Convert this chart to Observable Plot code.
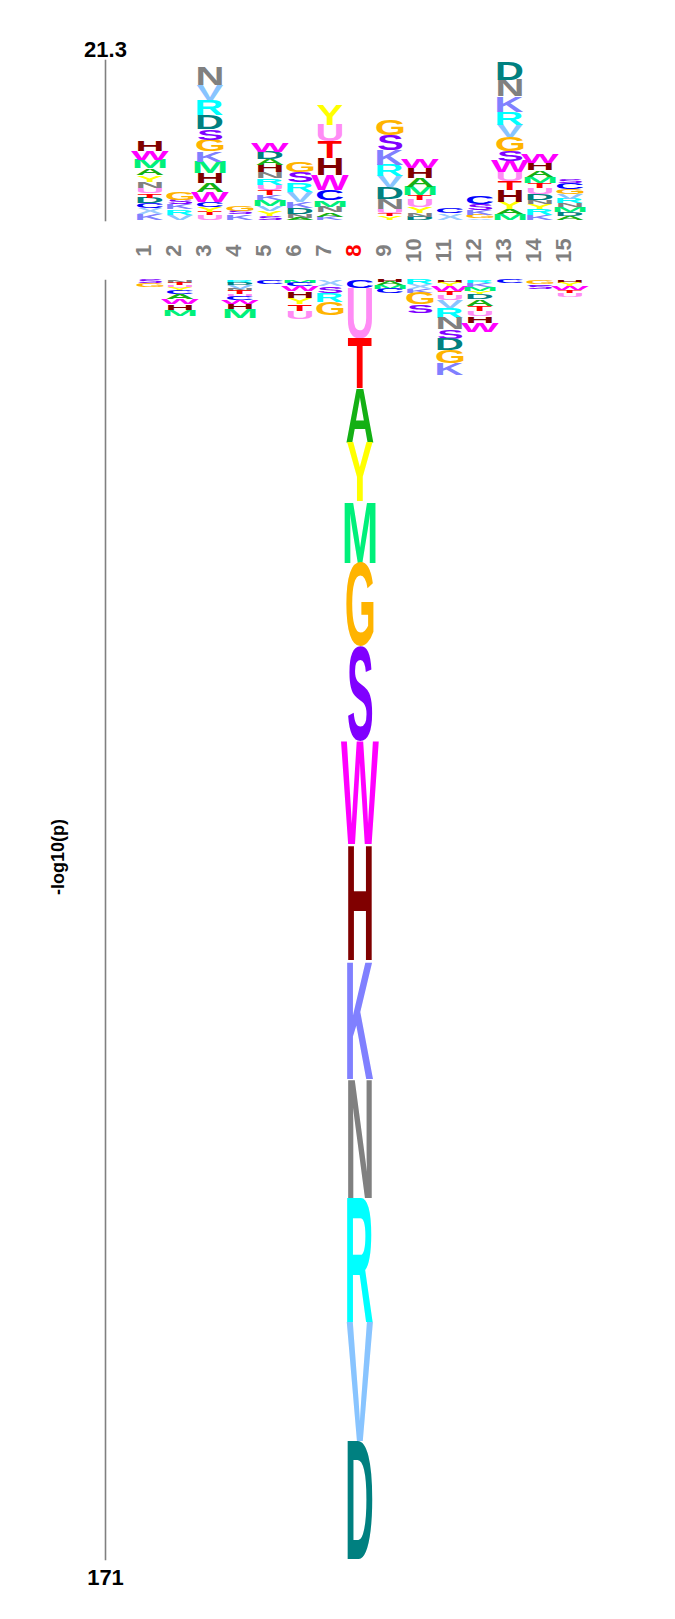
<!DOCTYPE html>
<html>
<head>
<meta charset="utf-8">
<script src="https://cdn.jsdelivr.net/npm/d3@7"></script>
<script src="https://cdn.jsdelivr.net/npm/@observablehq/plot@0.6"></script>
<style>
  body { margin: 0; background: #ffffff; }
  #chart { width: 675px; height: 1619px; }
  #chart svg { display: block; }
</style>
</head>
<body>
<div id="chart"></div>
<script>
// ---------- data ----------
const positions = [1, 2, 3, 4, 5, 6, 7, 8, 9, 10, 11, 12, 13, 14, 15];
const centralPosition = 8;
const yMaxUp = 21.3;
const yMaxLow = 171;
const yAxisTitle = "-log10(p)";

// over-represented residues, listed from the baseline upward
const upLetters = [
  "KXCDTUNYAMWH", "VRKSG", "UTYCWAHMKGSDRVN", "KSG", "SYVMKTURNHADW",
  "ANDKVRSG", "KANMCWHTUY", "", "YTUNDVRKSG", "DNYUTMAHW",
  "XC", "VGKSC", "MAYHTUWSGVRKND", "KRYNDUTMAHW", "ADMNRVGCS"
];
const upHeights = [
  [0.76, 0.8, 0.67, 0.76, 0.57, 0.67, 0.89, 0.89, 0.89, 1.11, 1.2, 1.33],
  [0.73, 0.67, 0.67, 0.6, 0.97],
  [0.67, 0.44, 0.67, 0.67, 1.33, 1.11, 1.33, 1.47, 1.42, 1.56, 1.47, 1.87, 2.0, 2.0, 2.44],
  [0.75, 0.45, 0.65],
  [0.57, 0.63, 0.71, 0.76, 0.67, 0.67, 0.67, 0.89, 0.8, 0.97, 0.8, 0.97, 1.11],
  [0.31, 0.44, 0.8, 0.8, 1.43, 1.24, 1.33, 1.43],
  [0.44, 0.57, 0.76, 0.89, 1.33, 2.0, 2.23, 2.23, 2.23, 2.67],
  [],
  [0.53, 0.36, 0.53, 1.33, 1.6, 1.51, 1.47, 2.0, 2.0, 2.0],
  [0.44, 0.44, 0.8, 0.97, 0.67, 1.11, 1.11, 1.33, 1.2],
  [0.89, 0.67],
  [0.23, 0.44, 0.67, 0.8, 0.97],
  [0.8, 0.63, 1.03, 1.56, 1.11, 1.2, 1.47, 1.33, 1.91, 1.64, 1.64, 2.13, 2.23, 2.44],
  [0.67, 0.76, 0.71, 0.53, 0.8, 0.76, 0.67, 0.8, 0.89, 0.97, 1.11],
  [0.57, 0.53, 0.67, 0.47, 0.6, 0.67, 0.67, 0.8, 0.57]
];

// under-represented residues, listed from the baseline downward
const lowLetters = [
  "SG", "NTUYCAWHM", "", "RDVNTUCWHM", "C",
  "MCWHYTU", "XSRG", "CUTAYMGSWHKNRVD", "HAMC", "RXKGS",
  "HYWTUVRNSDGK", "RKMYDATUHW", "C", "GCS", "HYWTU"
];
const lowHeights = [
  [0.44, 0.57],
  [0.36, 0.36, 0.31, 0.44, 0.44, 0.67, 0.67, 0.76, 0.8],
  [],
  [0.36, 0.36, 0.44, 0.31, 0.44, 0.31, 0.44, 0.57, 0.67, 1.2],
  [0.58],
  [0.36, 0.44, 0.67, 0.89, 0.89, 0.89, 1.03],
  [0.8, 0.89, 1.24, 1.78],
  [1.11, 6.68, 6.68, 7.35, 7.79, 8.16, 11.23, 12.7, 13.77, 15.51, 15.78, 15.91, 16.58, 15.91, 15.78],
  [0.27, 0.44, 0.44, 0.62],
  [0.58, 0.67, 0.45, 1.56, 1.11],
  [0.36, 0.44, 0.67, 0.58, 0.62, 1.03, 1.34, 1.56, 1.25, 1.51, 1.7, 1.6],
  [0.36, 0.53, 0.58, 0.4, 0.67, 0.89, 0.67, 0.76, 0.89, 1.25],
  [0.44],
  [0.58, 0.22, 0.44],
  [0.36, 0.44, 0.53, 0.36, 0.53]
];

const residueColors = {
  A: "#14b014", C: "#0000ff", D: "#008080", G: "#ffb400", H: "#800000",
  K: "#8080ff", M: "#00f07a", N: "#808080", R: "#00ffff", S: "#8000ff",
  T: "#ff0000", U: "#ff8cf5", V: "#88c4ff", W: "#ff00ff", X: "#99ccff",
  Y: "#ffff00"
};

// ---------- build stacked rows ----------
function buildRows(lettersList, heightsList) {
  const rows = [];
  positions.forEach((p, i) => {
    let c = 0;
    [...lettersList[i]].forEach((L, j) => {
      const h = heightsList[i][j];
      rows.push({pos: p, letter: L, y1: c, y2: c + h, mid: c + h / 2, color: residueColors[L]});
      c += h;
    });
  });
  return rows;
}
const upRows = buildRows(upLetters, upHeights);
const lowRows = buildRows(lowLetters, lowHeights);

const FONT = "Liberation Sans, Arial, Helvetica, sans-serif";
const xOpts = {type: "band", domain: positions, range: [135, 585], padding: 0, axis: null};

const upper = Plot.plot({
  width: 675, height: 270,
  marginLeft: 105, marginRight: 90, marginTop: 60, marginBottom: 50,
  x: xOpts,
  y: {domain: [0, yMaxUp], axis: null},
  color: {type: "identity"},
  style: {fontFamily: FONT, background: "#ffffff"},
  marks: [
    Plot.frame({anchor: "left", stroke: "#808080", strokeWidth: 1.6}),
    Plot.text(upRows, {x: "pos", y: "mid", text: "letter", fill: "color", fontSize: 100,
      fontWeight: "bold", fontFamily: FONT}),
    Plot.text(positions, {x: d => d, text: d => String(d), frameAnchor: "bottom", dy: 30,
      rotate: -90, textAnchor: "middle", fill: d => d === centralPosition ? "#ff0000" : "#808080",
      fontSize: 22, fontWeight: "bold", fontFamily: FONT}),
    Plot.text([yMaxUp], {text: d => String(d), frameAnchor: "top-left", dy: -19, textAnchor: "middle",
      fontSize: 22, fontWeight: "bold", fill: "#000000", fontFamily: FONT})
  ]
});

const lower = Plot.plot({
  width: 675, height: 1349,
  marginLeft: 105, marginRight: 90, marginTop: 10, marginBottom: 60,
  x: xOpts,
  y: {domain: [0, yMaxLow], reverse: true, axis: null},
  color: {type: "identity"},
  style: {fontFamily: FONT, background: "#ffffff"},
  marks: [
    Plot.frame({anchor: "left", stroke: "#808080", strokeWidth: 1.6}),
    Plot.text(lowRows, {x: "pos", y: "mid", text: "letter", fill: "color", fontSize: 100,
      fontWeight: "bold", fontFamily: FONT}),
    Plot.text([yMaxLow], {text: d => String(d), frameAnchor: "bottom-left", dy: 25, textAnchor: "middle",
      fontSize: 22, fontWeight: "bold", fill: "#000000", fontFamily: FONT}),
    Plot.text([yAxisTitle], {text: d => d, frameAnchor: "left", dx: -47, dy: -63, rotate: -90,
      textAnchor: "middle", fontSize: 18, fontWeight: "bold", fill: "#000000", fontFamily: FONT})
  ]
});

const chart = document.getElementById("chart");
chart.appendChild(upper);
chart.appendChild(lower);

// ---------- stretch each glyph into its stack cell ----------
const ctx = document.createElement("canvas").getContext("2d");
ctx.font = 'bold 100px "Liberation Sans"';
const metricCache = {};
function metrics(L) {
  if (!metricCache[L]) {
    const m = ctx.measureText(L);
    metricCache[L] = {l: m.actualBoundingBoxLeft, r: m.actualBoundingBoxRight,
      a: m.actualBoundingBoxAscent, d: m.actualBoundingBoxDescent};
  }
  return metricCache[L];
}
const widthBoost = {M: 1.1};
function fitLetters(plot, rows) {
  const xs = plot.scale("x"), ys = plot.scale("y");
  const bw = xs.bandwidth;
  // the letters are the first text mark of each plot
  const group = plot.querySelectorAll('g[aria-label="text"]')[0];
  group.removeAttribute("transform");
  const texts = group.querySelectorAll("text");
  texts.forEach((t, i) => {
    const r = rows[i];
    if (!r) return;
    const m = metrics(r.letter);
    const cx = xs.apply(r.pos) + bw / 2;
    const ya = ys.apply(r.y1), yb = ys.apply(r.y2);
    const top = Math.min(ya, yb), h = Math.abs(ya - yb);
    const sx = 0.4 * (widthBoost[r.letter] || 1);
    const sy = h / (m.a + m.d);
    const tx = cx - sx * (m.r - m.l) / 2;
    t.removeAttribute("x"); t.removeAttribute("y"); t.removeAttribute("dy");
    t.setAttribute("text-anchor", "start");
    t.setAttribute("transform", `translate(${tx},${top}) scale(${sx},${sy}) translate(0,${m.a})`);
  });
}
fitLetters(upper, upRows);
fitLetters(lower, lowRows);
</script>
</body>
</html>
